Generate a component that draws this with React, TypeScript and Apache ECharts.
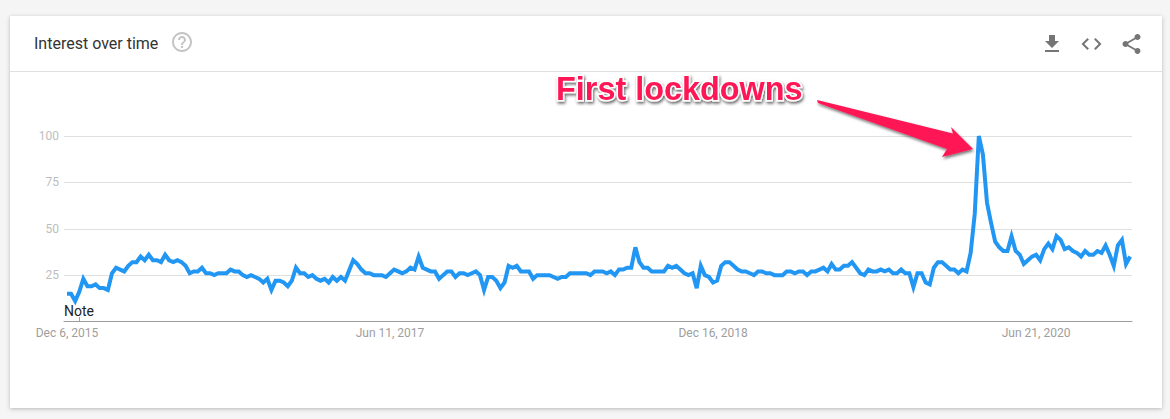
import React, { useEffect, useRef } from "react";
import * as echarts from "echarts";

const title = "Interest over time";
const annotation = "First lockdowns";
const noteLabel = "Note";
const yTicks = [25, 50, 75, 100];
const tickWeeks = [0, 79, 158, 237];
const tickLabels = ["Dec 6, 2015", "Jun 11, 2017", "Dec 16, 2018", "Jun 21, 2020"];

const interest2016 = [15, 15, 11, 16, 23, 19, 19, 20, 18, 18, 17, 26, 29, 28, 27, 30, 32, 32, 35, 33, 36, 33, 33, 32, 36, 33, 32, 33, 32, 30, 26, 27, 27, 29, 26, 26, 25, 26, 26, 26, 28, 27, 27, 25, 24, 25, 24, 23, 21, 23, 17, 22, 22, 21, 19, 22, 29];
const interest2017 = [26, 26, 24, 25, 23, 22, 23, 21, 24, 22, 24, 22, 27.5, 33, 31, 28, 26, 26, 25, 25, 25, 24, 26, 28, 27, 26, 27, 29, 28, 35, 29, 28, 27, 27, 23, 25, 27, 27, 24, 26, 26, 25, 26, 27, 25, 17, 24, 24, 22, 18, 21, 30, 29, 30, 27, 27, 27, 23, 25, 25, 25, 25, 24, 23, 24, 24];
const interest2018 = [26, 26, 26, 26, 26, 25, 27, 27, 27, 26, 27, 25, 28, 28, 29, 29, 40, 32, 29, 29, 27, 27, 27, 27, 30, 29, 30, 28, 26, 25, 26, 18, 30, 25, 24, 21, 22, 30, 32, 32, 30, 28, 27, 27, 26, 25, 27, 27, 26, 26, 25, 25, 25, 27, 27, 26, 27, 27, 25, 27, 27, 28, 29, 27, 31, 28];
const interest2019 = [28, 30, 30, 32, 29, 26, 25, 28, 27, 27, 28, 27, 28, 26, 26, 28, 26, 26, 18.5, 26, 26, 21, 20, 29, 32, 32, 30, 28, 28, 26, 28, 27, 37, 58, 100, 90, 64, 53, 43, 40, 38, 38, 46, 38, 36, 31, 33, 35, 36, 33, 39, 42, 39, 46, 44, 39, 40, 38, 37, 35, 38, 36, 36, 38, 37, 41, 36, 30, 41, 44, 31, 35];
const interest = [...interest2016, ...interest2017, ...interest2018, ...interest2019];
const weeks = interest.map((_, i) => i);

echarts.graphic.registerShape("dl", echarts.graphic.extendPath("M19 9h-4V3H9v6H5l7 7 7-7zM5 18v2h14v-2H5z", {}));
echarts.graphic.registerShape("code", echarts.graphic.extendPath("M9.4 16.6L4.8 12l4.6-4.6L8 6l-6 6 6 6 1.4-1.4zm5.2 0l4.6-4.6-4.6-4.6L16 6l6 6-6 6-1.4-1.4z", {}));
echarts.graphic.registerShape("share", echarts.graphic.extendPath("M18 16.08c-.76 0-1.44.3-1.96.77L8.91 12.7c.05-.23.09-.46.09-.7s-.04-.47-.09-.7l7.05-4.11c.54.5 1.25.81 2.04.81 1.66 0 3-1.34 3-3s-1.34-3-3-3-3 1.34-3 3c0 .24.04.47.09.7L8.04 9.81C7.5 9.31 6.79 9 6 9c-1.66 0-3 1.34-3 3s1.34 3 3 3c.79 0 1.5-.31 2.04-.81l7.12 4.16c-.05.21-.08.43-.08.65 0 1.61 1.31 2.92 2.92 2.92 1.61 0 2.92-1.31 2.92-2.92s-1.31-2.92-2.92-2.92z", {}));
echarts.graphic.registerShape("help", echarts.graphic.extendPath("M11 18h2v-2h-2v2zm1-16C6.48 2 2 6.48 2 12s4.48 10 10 10 10-4.48 10-10S17.52 2 12 2zm0 18c-4.41 0-8-3.59-8-8s3.59-8 8-8 8 3.59 8 8-3.59 8-8 8zm0-14c-2.21 0-4 1.79-4 4h2c0-1.1.9-2 2-2s2 .9 2 2c0 2-3 1.75-3 5h2c0-2.25 3-2.5 3-5 0-2.21-1.79-4-4-4z", {}));

const arrowPoints = [[817, 100], [953, 133.5], [951, 127], [973, 149], [942, 157], [947, 149], [818, 103]];

export default function App() {
  const ref = useRef<HTMLDivElement>(null);
  useEffect(() => {
    document.body.style.margin = "0";
    const chart = echarts.init(ref.current!, undefined, { renderer: "svg" });
    chart.setOption({
      animation: false,
      backgroundColor: "#f5f5f5",
      grid: { left: 64, right: 38, top: 136, height: 185.5, containLabel: false },
      xAxis: {
        type: "value",
        min: -0.73,
        max: 260.46,
        splitLine: { show: false },
        axisTick: { show: false },
        axisLine: { show: true, onZero: false, lineStyle: { color: "#9e9e9e", width: 1 } },
        axisLabel: {
          customValues: tickWeeks,
          formatter: (v: number) => tickLabels[tickWeeks.indexOf(Math.round(v))] ?? "",
          color: "#9e9e9e",
          fontFamily: "Roboto",
          fontSize: 12,
          margin: 5,
          hideOverlap: false,
        },
      },
      yAxis: {
        type: "value",
        min: 0,
        max: 100,
        interval: 25,
        axisLine: { show: false },
        axisTick: { show: false },
        splitLine: { lineStyle: { color: "#e0e0e0", width: 1 } },
        axisLabel: {
          formatter: (v: number) => (yTicks.includes(v) ? String(v) : ""),
          color: "#bdbdbd",
          fontFamily: "Roboto",
          fontSize: 12,
          margin: 5,
        },
      },
      series: [
        {
          type: "line",
          data: weeks.map((w) => [w, interest[w]]),
          showSymbol: false,
          symbol: "none",
          smooth: false,
          clip: false,
          z: 5,
          lineStyle: { color: "#2196f3", width: 4, join: "miter" },
        },
      ],
      graphic: [
        { type: "rect", z: -2, shape: { x: 10, y: 16, width: 1152, height: 392 }, style: { fill: "#fff", shadowBlur: 4, shadowColor: "rgba(0,0,0,0.25)", shadowOffsetY: 1 } },
        { type: "line", z: -1, shape: { x1: 10, y1: 71.5, x2: 1162, y2: 71.5 }, style: { stroke: "#e0e0e0", lineWidth: 1 } },
        { type: "text", x: 34, y: 43, style: { text: title, fill: "#333", font: "16px Roboto", verticalAlign: "middle" } },
        { type: "help", x: 170, y: 30, style: { fill: "#c4c4c4" } },
        { type: "dl", x: 1040, y: 32, style: { fill: "#757575" } },
        { type: "code", x: 1079.5, y: 32, style: { fill: "#757575" } },
        { type: "share", x: 1119.5, y: 32, style: { fill: "#757575" } },
        { type: "text", x: 79, y: 310.5, style: { text: noteLabel, fill: "#222", font: "14px Roboto", align: "center", verticalAlign: "middle" } },
        { type: "line", shape: { x1: 79.5, y1: 317, x2: 79.5, y2: 321 }, style: { stroke: "#9e9e9e", lineWidth: 1 } },
        { type: "polygon", z: 20, shape: { points: arrowPoints }, style: { fill: "#ff1654", shadowBlur: 3, shadowColor: "rgba(0,0,0,0.55)", shadowOffsetX: 1, shadowOffsetY: 2 } },
        { type: "text", z: 20, x: 556, y: 88.5, style: { text: annotation, fill: "#ff1654", stroke: "#fff", lineWidth: 3, font: "bold 32.4px 'Liberation Sans'", verticalAlign: "middle", textShadowBlur: 3, textShadowColor: "rgba(0,0,0,0.6)", textShadowOffsetX: 1, textShadowOffsetY: 2 } },
      ],
    });
    return () => chart.dispose();
  }, []);
  return <div ref={ref} style={{ width: 1170, height: 419 }} />;
}
